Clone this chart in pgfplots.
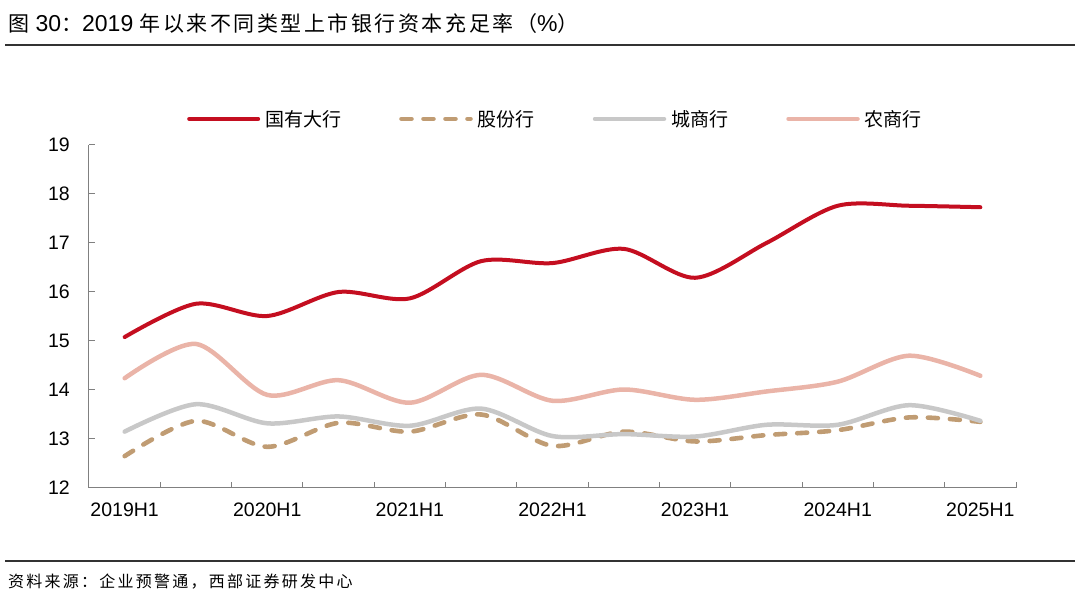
\documentclass[border=0pt]{standalone}
\usepackage{pgfplots}
\pgfplotsset{compat=1.18}
\usepackage{fontspec}
\setmainfont{Liberation Sans}
\newfontfamily\cjk{Noto Sans CJK SC}
\newfontfamily\cjkt[LetterSpace=12]{Noto Sans CJK SC}
\definecolor{cRed}{RGB}{196,14,32}
\definecolor{cTan}{RGB}{192,156,115}
\definecolor{cGray}{RGB}{200,200,200}
\definecolor{cPink}{RGB}{234,180,168}
\definecolor{axisgray}{RGB}{128,128,128}
\definecolor{rulec}{RGB}{50,50,50}
\begin{document}
\begin{tikzpicture}
\useasboundingbox (0,0) rectangle (1080bp,597bp);
\node[anchor=west, inner sep=0pt, font=\fontsize{23bp}{26bp}\selectfont] at (8bp,573bp)
  {{\cjkt\fontsize{21bp}{26bp}\selectfont 图} 30{\cjkt\fontsize{21bp}{26bp}\selectfont ：}2019 {\cjkt\fontsize{21bp}{26bp}\selectfont 年以来不同类型上市银行资本充足率（}\%{\cjkt\fontsize{21bp}{26bp}\selectfont ）}};
\draw[rulec, line width=2bp] (5bp,552bp) -- (1075bp,552bp);
\draw[rulec, line width=2.5bp] (5bp,36bp) -- (1075bp,36bp);
\node[anchor=west, inner sep=0pt, font=\cjk\fontsize{16bp}{18bp}\selectfont\addfontfeatures{LetterSpace=14}] at (8bp,15bp)
  {资料来源：企业预警通，西部证券研发中心};
\begin{axis}[
  at={(89bp,109bp)}, anchor=south west,
  scale only axis, width=927bp, height=343bp,
  xmin=-0.5, xmax=12.5, ymin=12, ymax=19,
  axis lines=left,
  axis line style={axisgray, line width=1bp, -},
  tick align=inside,
  major tick length=6bp,
  tick style={axisgray, line width=1bp},
  ytick={12,13,...,19},
  xtick={-0.5,0.5,...,12.5}, xticklabels={},
  extra x ticks={0,2,...,12},
  extra x tick labels={2019H1,2020H1,2021H1,2022H1,2023H1,2024H1,2025H1},
  extra x tick style={major tick length=0pt},
  ticklabel style={font=\fontsize{19.5bp}{22bp}\selectfont},
  yticklabel style={inner sep=0pt, anchor=east, xshift=-19bp},
  xticklabel style={inner sep=0pt, anchor=north, yshift=-15bp},
  /pgf/number format/assume math mode=true,
  legend columns=4,
  legend style={at={(0.1057,1.076)}, anchor=west, draw=none, fill=none, inner sep=0pt,
    font=\cjk\fontsize{19bp}{22bp}\selectfont,
    nodes={inner sep=0pt},
    /tikz/every odd column/.append style={column sep=5bp},
    /tikz/every even column/.append style={column sep=58bp}},
  legend cell align=left,
  legend image code/.code={\draw[#1, line cap=round] (0bp,0bp) -- (69bp,0bp);},
]
\addplot[cRed, line width=4bp, smooth, line cap=round] coordinates {
(0,15.08) (1,15.76) (2,15.51) (3,16.00) (4,15.87) (5,16.63) (6,16.59) (7,16.88) (8,16.29) (9,17.00) (10,17.76) (11,17.76) (12,17.73)};
\addlegendentry{国有大行}
\addplot[cTan, line width=4.6bp, smooth, line cap=round, dash pattern=on 10bp off 12bp] coordinates {
(0,12.65) (1,13.37) (2,12.84) (3,13.33) (4,13.15) (5,13.50) (6,12.86) (7,13.15) (8,12.95) (9,13.08) (10,13.18) (11,13.44) (12,13.35)};
\addlegendentry{股份行}
\addplot[cGray, line width=4.5bp, smooth, line cap=round] coordinates {
(0,13.15) (1,13.71) (2,13.32) (3,13.46) (4,13.27) (5,13.62) (6,13.06) (7,13.10) (8,13.05) (9,13.29) (10,13.29) (11,13.69) (12,13.37)};
\addlegendentry{城商行}
\addplot[cPink, line width=4.5bp, smooth, line cap=round] coordinates {
(0,14.24) (1,14.94) (2,13.90) (3,14.20) (4,13.74) (5,14.31) (6,13.78) (7,14.01) (8,13.80) (9,13.97) (10,14.17) (11,14.70) (12,14.29)};
\addlegendentry{农商行}
\end{axis}
\end{tikzpicture}
\end{document}
